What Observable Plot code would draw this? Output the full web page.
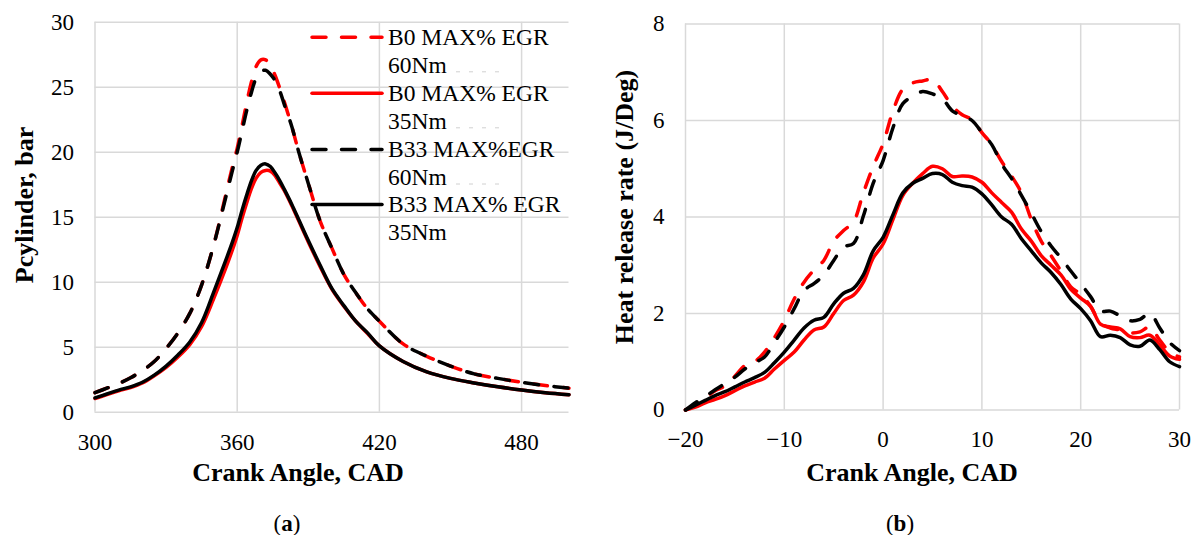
<!DOCTYPE html>
<html><head><meta charset="utf-8">
<script src="https://cdn.jsdelivr.net/npm/d3@7"></script>
<script src="https://cdn.jsdelivr.net/npm/@observablehq/plot@0.6"></script>
<style>
body{margin:0;background:#fff;}
#wrap{position:relative;width:1202px;height:535px;overflow:hidden;font-family:"Liberation Serif","Times New Roman",serif;color:#000;background:#fff}
.panel{position:absolute;top:0;width:601px;height:535px}
.t{position:absolute;white-space:nowrap;transform:translate(-50%,-50%);font-weight:bold;font-size:26px;line-height:1}
.ty{transform:translate(-50%,-50%) rotate(-90deg)}
.cap{position:absolute;white-space:nowrap;transform:translate(-50%,-50%);font-size:23px;line-height:1}
#legend{position:absolute;left:0;top:0;pointer-events:none}
</style></head><body>
<div id="wrap">
  <div id="pa" class="panel" style="left:0"></div>
  <div id="pb" class="panel" style="left:601px"></div>
  <div class="t" style="left:298px;top:473px">Crank Angle, CAD</div>
  <div class="t" style="left:912px;top:473px">Crank Angle, CAD</div>
  <div class="t ty" style="left:25px;top:205px">Pcylinder, bar</div>
  <div class="t ty" style="left:625px;top:207px">Heat release rate (J/Deg)</div>
  <div class="cap" style="left:287px;top:523px">(<b>a</b>)</div>
  <div class="cap" style="left:900px;top:523px">(<b>b</b>)</div>
</div>
<script>
// ---------- Panel (a): cylinder pressure ----------
const angleA = [300,305,310,315,320,325,330,335,340,345,350,355,358,360,362,364,366,368,370,372,374,376,378,380,383,386,390,395,400,405,410,415,420,430,440,450,460,470,480,490,500];
const pB0_60 = [1.5,1.85,2.2,2.65,3.2,3.9,4.9,6.1,7.6,9.8,12.8,16.6,18.9,20.3,22.0,23.8,25.4,26.6,27.1,27.1,26.7,25.9,24.9,23.8,22.0,20.0,17.6,14.7,12.6,10.6,9.2,7.95,7.0,5.25,4.3,3.55,2.95,2.6,2.3,2.05,1.85];
const pB0_35 = [1.05,1.35,1.65,1.9,2.25,2.8,3.45,4.25,5.2,6.6,8.7,11.0,12.5,13.6,14.9,16.1,17.2,18.0,18.45,18.6,18.55,18.2,17.6,17.0,15.9,14.7,13.1,11.2,9.45,8.15,7.0,6.05,5.1,3.9,3.1,2.6,2.25,1.95,1.7,1.5,1.35];
const pB33_60 = [1.5,1.85,2.2,2.65,3.2,3.9,4.9,6.1,7.6,9.8,12.8,16.4,18.6,20.0,21.6,23.2,24.6,25.7,26.2,26.3,26.0,25.5,24.7,23.6,22.0,20.0,17.6,14.7,12.6,10.6,9.2,7.95,7.0,5.25,4.3,3.55,2.95,2.6,2.3,2.05,1.85];
const pB33_35 = [1.1,1.4,1.7,1.95,2.3,2.85,3.55,4.4,5.4,6.9,9.2,11.6,13.1,14.2,15.5,16.7,17.8,18.6,19.0,19.1,18.9,18.4,17.8,17.1,16.0,14.8,13.2,11.3,9.5,8.2,7.0,6.1,5.1,3.9,3.1,2.6,2.25,1.95,1.7,1.5,1.35];
const xTicksA = [300,360,420,480];
const yTicksA = [0,5,10,15,20,25,30];

// ---------- Panel (b): heat release rate ----------
const caB = [-20,-19,-18,-17,-16,-15,-14,-13,-12,-11,-10,-9,-8,-7,-6,-5,-4,-3,-2,-1,0,1,2,3,4,5,6,7,8,9,10,11,12,13,14,15,16,17,18,19,20,21,22,23,24,25,26,27,28,29,30];
const hB0_60 = [0,0.12,0.25,0.4,0.5,0.7,0.92,1.0,1.2,1.5,1.86,2.3,2.65,2.9,3.1,3.5,3.72,3.9,4.5,5.05,5.52,6.2,6.65,6.78,6.82,6.85,6.6,6.3,6.12,6.02,5.75,5.5,5.15,4.85,4.5,3.95,3.5,3.2,2.88,2.55,2.4,2.15,1.8,1.7,1.66,1.6,1.62,1.72,1.45,1.2,1.1];
const hB0_35 = [0,0.06,0.15,0.22,0.3,0.4,0.5,0.58,0.66,0.85,1.03,1.2,1.45,1.66,1.72,2.0,2.27,2.38,2.65,3.15,3.44,3.95,4.45,4.7,4.9,5.05,5.0,4.84,4.85,4.83,4.72,4.5,4.3,4.1,3.75,3.5,3.2,3.0,2.8,2.5,2.32,2.15,1.78,1.72,1.68,1.52,1.5,1.55,1.35,1.12,1.05];
const hB33_60 = [0,0.15,0.28,0.42,0.55,0.68,0.85,0.98,1.1,1.4,1.72,2.1,2.48,2.62,2.8,3.1,3.38,3.45,4.02,4.7,5.17,5.85,6.35,6.5,6.6,6.55,6.45,6.2,6.1,6.0,5.75,5.5,5.1,4.8,4.45,4.08,3.7,3.4,3.15,2.88,2.62,2.35,2.05,2.05,1.95,1.85,1.88,2.0,1.7,1.4,1.23];
const hB33_35 = [0,0.1,0.2,0.3,0.38,0.48,0.58,0.67,0.78,0.98,1.2,1.45,1.7,1.86,1.92,2.2,2.42,2.52,2.8,3.3,3.58,4.05,4.5,4.7,4.8,4.9,4.88,4.72,4.65,4.62,4.48,4.25,4.0,3.85,3.55,3.3,3.05,2.85,2.6,2.3,2.1,1.85,1.52,1.55,1.5,1.35,1.32,1.45,1.25,1.0,0.9];
const xTicksB = [-20,-10,0,10,20,30];
const yTicksB = [0,2,4,6,8];

// ---------- Series / legend ----------
const seriesNames = [["B0 MAX% EGR","60Nm"],["B0 MAX% EGR","35Nm"],["B33 MAX%EGR","60Nm"],["B33 MAX% EGR","35Nm"]];
const seriesColors = ["#ff0000","#ff0000","#000000","#000000"];
const seriesDash = ["14,15.5",null,"14,15.5",null];

const FONT = "'Liberation Serif','Times New Roman',serif";
const GRID = "#d9d9d9";

function table(xs, cols) {
  return cols.map(col => xs.map((x, i) => ({x, y: col[i]})));
}

function lineMarks(tables) {
  return tables.map((t, i) => Plot.line(t, {
    x: "x", y: "y", stroke: seriesColors[i], strokeWidth: 3.5,
    strokeDasharray: seriesDash[i] || undefined, strokeLinecap: "round",
    curve: "catmull-rom"
  }));
}

function panel(o) {
  return Plot.plot({
    width: 601, height: 535,
    marginLeft: o.ml, marginRight: o.mr, marginTop: o.mt, marginBottom: o.mb,
    style: {fontFamily: FONT, fontSize: "23px", color: "#000", background: "transparent", overflow: "visible"},
    x: {domain: o.xd, label: null},
    y: {domain: o.yd, label: null},
    marks: [
      Plot.gridX(o.xg, {stroke: GRID, strokeOpacity: 1, strokeWidth: 1.5}),
      Plot.gridY(o.yt, {stroke: GRID, strokeOpacity: 1, strokeWidth: 1.5}),
      Plot.axisX(o.xt, {tickSize: 0, tickPadding: 21, label: null, fontSize: 23, fill: "#000"}),
      Plot.axisY(o.yt, {tickSize: 0, tickPadding: 21, label: null, fontSize: 23, fill: "#000"}),
      ...lineMarks(o.tables)
    ]
  });
}

document.getElementById("pa").append(panel({
  ml: 94.5, mr: 32.5, mt: 21.7, mb: 123.3,
  xd: [300, 500], yd: [0, 30], xt: xTicksA, xg: xTicksA, yt: yTicksA,
  tables: table(angleA, [pB0_60, pB0_35, pB33_60, pB33_35])
}));
document.getElementById("pb").append(panel({
  ml: 84, mr: 23, mt: 23.5, mb: 125.5,
  xd: [-20, 30], yd: [0, 8], xt: xTicksB, xg: xTicksB, yt: yTicksB,
  tables: table(caB, [hB0_60, hB0_35, hB33_60, hB33_35])
}));

// Legend overlay inside panel (a)
const svg = d3.select("#wrap").append("svg").attr("id", "legend").attr("width", 601).attr("height", 260)
  .style("font-family", FONT).style("font-size", "23.5px");
const lineY = [37.3, 93.3, 149.5, 204.5];
seriesNames.forEach((nm, i) => {
  const y = lineY[i];
  svg.append("line").attr("x1", 312).attr("x2", 382).attr("y1", y).attr("y2", y)
    .attr("stroke", seriesColors[i]).attr("stroke-width", 3.5).attr("stroke-linecap", "round")
    .attr("stroke-dasharray", seriesDash[i]);
  svg.append("text").attr("x", 388).attr("y", y + 7.8).text(nm[0]);
  svg.append("text").attr("x", 388).attr("y", y + 35.7).text(nm[1]);
  if (i < 3) {
    svg.append("line").attr("x1", 456).attr("x2", 500).attr("y1", y + 34.5).attr("y2", y + 34.5)
      .attr("stroke", "#d0d0d0").attr("stroke-width", 1).attr("stroke-dasharray", "4,9");
  }
});
</script>
</body></html>
